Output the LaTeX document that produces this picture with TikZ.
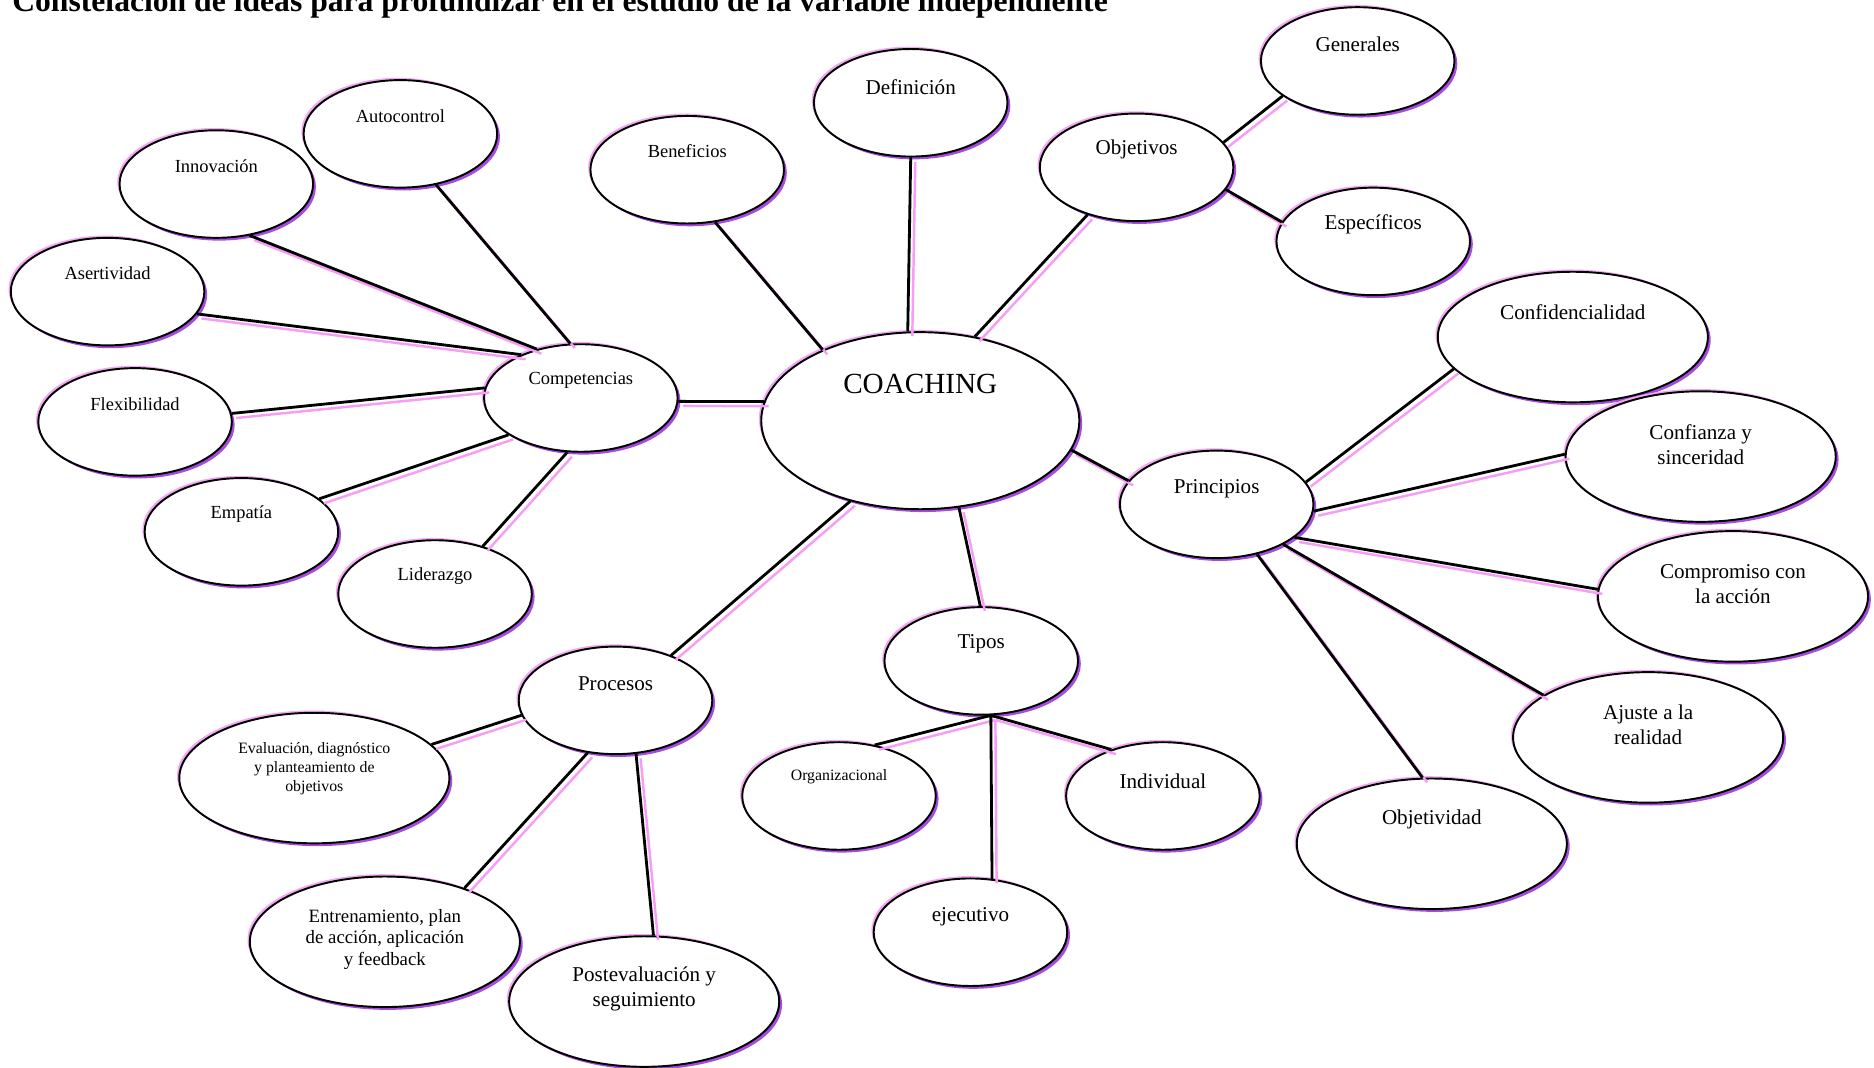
\documentclass[tikz,border=0pt]{standalone}
\usepackage{fontspec}
\setmainfont{Liberation Serif}
\usetikzlibrary{shapes.geometric, shadows}
\definecolor{linkpink}{HTML}{F79CF7}
\definecolor{glowpink}{HTML}{F4A8F4}
\definecolor{glowviolet}{HTML}{A64BE0}
\tikzset{
  glow/.style={general shadow={fill=glowpink, shadow xshift=-1.3pt, shadow yshift=1.3pt},
               general shadow={fill=glowviolet, shadow xshift=1.6pt, shadow yshift=-1.6pt}},
  idea/.style={ellipse, draw, line width=1.1pt, fill=white, glow, inner sep=0pt,
               minimum width=3.87cm, minimum height=2.15cm},
  bigidea/.style={idea, minimum width=5.4cm, minimum height=2.61cm},
  small/.style={font=\fontsize{10.5}{12.6}\selectfont, align=center},
  mid/.style={font=\fontsize{12}{14.3}\selectfont, align=center},
  link/.style={line width=1.6pt,
               general shadow={draw=linkpink, fill=none, line width=1.4pt, shadow xshift=2.6pt, shadow yshift=-2.6pt}}
}
\begin{document}
\begin{tikzpicture}[x=0.0239cm, y=-0.0239cm]
\useasboundingbox (0,0) rectangle (1568,893);
\node[anchor=base west, inner sep=0pt, font=\fontsize{18}{21}\selectfont\bfseries] (title) at (10,10) {Constelación de ideas para profundizar en el estudio de la variable independiente};
\node[idea, minimum width=6.36cm, minimum height=3.54cm, label={[font=\fontsize{16.6}{20}\selectfont, yshift=0.74cm]center:COACHING}] (coach) at (770,352) {};
\node[idea, label={[mid, yshift=0.31cm]center:Definición}] (defin) at (762,86) {};
\node[idea, label={[small, yshift=0.38cm]center:Beneficios}] (benef) at (575,142) {};
\node[idea, label={[mid, yshift=0.35cm]center:Objetivos}] (obj) at (951,140) {};
\node[idea, label={[mid, yshift=0.34cm]center:Generales}] (gen) at (1136,51) {};
\node[idea, label={[mid, yshift=0.34cm]center:Específicos}] (espec) at (1149,202) {};
\node[idea, label={[small, yshift=0.36cm]center:Competencias}] (comp) at (486,333) {};
\node[idea, label={[small, yshift=0.36cm]center:Autocontrol}] (auto) at (335,112) {};
\node[idea, label={[small, yshift=0.36cm]center:Innovación}] (innov) at (181,154) {};
\node[idea, label={[small, yshift=0.36cm]center:Asertividad}] (aser) at (90,244) {};
\node[idea, label={[small, yshift=0.36cm]center:Flexibilidad}] (flex) at (113,353) {};
\node[idea, label={[small, yshift=0.36cm]center:Empatía}] (empa) at (202,445) {};
\node[idea, label={[small, yshift=0.36cm]center:Liderazgo}] (lider) at (364,497) {};
\node[idea, label={[mid, yshift=0.31cm]center:Principios}] (prin) at (1018,422) {};
\node[bigidea, label={[mid, yshift=0.5cm]center:Confidencialidad}] (confid) at (1316,282) {};
\node[bigidea, label={[mid, yshift=0.23cm]center:{Confianza y\\sinceridad}}] (confia) at (1423,382) {};
\node[bigidea, label={[mid, yshift=0.25cm]center:{Compromiso con\\la acción}}] (compro) at (1450,499) {};
\node[bigidea, label={[mid, yshift=0.25cm]center:{Ajuste a la\\realidad}}] (ajuste) at (1379,617) {};
\node[bigidea, label={[mid, yshift=0.48cm]center:Objetividad}] (objetiv) at (1198,706) {};
\node[idea, label={[mid, yshift=0.34cm]center:Tipos}] (tipos) at (821,553) {};
\node[idea, label={[font=\fontsize{9}{11}\selectfont, yshift=0.38cm]center:Organizacional}] (organ) at (702,666) {};
\node[idea, label={[mid, yshift=0.29cm]center:Individual}] (indiv) at (973,666) {};
\node[idea, label={[mid, yshift=0.31cm]center:ejecutivo}] (ejec) at (812,780) {};
\node[idea, label={[mid, yshift=0.34cm]center:Procesos}] (proc) at (515,586) {};
\node[bigidea, label={[font=\fontsize{9}{10.9}\selectfont, align=center, yshift=0.19cm]center:{Evaluación, diagnóstico\\y planteamiento de\\objetivos}}] (evalu) at (263,651) {};
\node[bigidea, label={[font=\fontsize{10.7}{12.3}\selectfont, align=center, yshift=0.05cm]center:{Entrenamiento, plan\\de acción, aplicación\\y feedback}}] (entren) at (322,788) {};
\node[bigidea, label={[mid, yshift=0.25cm]center:{Postevaluación y\\seguimiento}}] (post) at (539,838) {};
\foreach \a/\b in {comp.101/auto.305, comp.132/innov.303, comp.144/aser.346, comp.174/flex.5,
                   comp.207/empa.23, comp.256/lider.45, comp.358/coach.173,
                   coach.144/benef.298, coach.98/defin.270, coach.57/obj.224,
                   obj.16/gen.205, obj.346/espec.168, coach.349/prin.165,
                   prin.14/confid.195, prin.356/confia.179, prin.337/compro.177,
                   prin.329/ajuste.158, prin.309/objetiv.98, coach.294/tipos.91,
                   tipos.280/organ.55, tipos.280/indiv.138, tipos.280/ejec.68,
                   coach.229/proc.39, proc.189/evalu.16, proc.242/entren.34, proc.291/post.82}
  \draw[link] (\a) -- (\b);
\end{tikzpicture}
\end{document}
